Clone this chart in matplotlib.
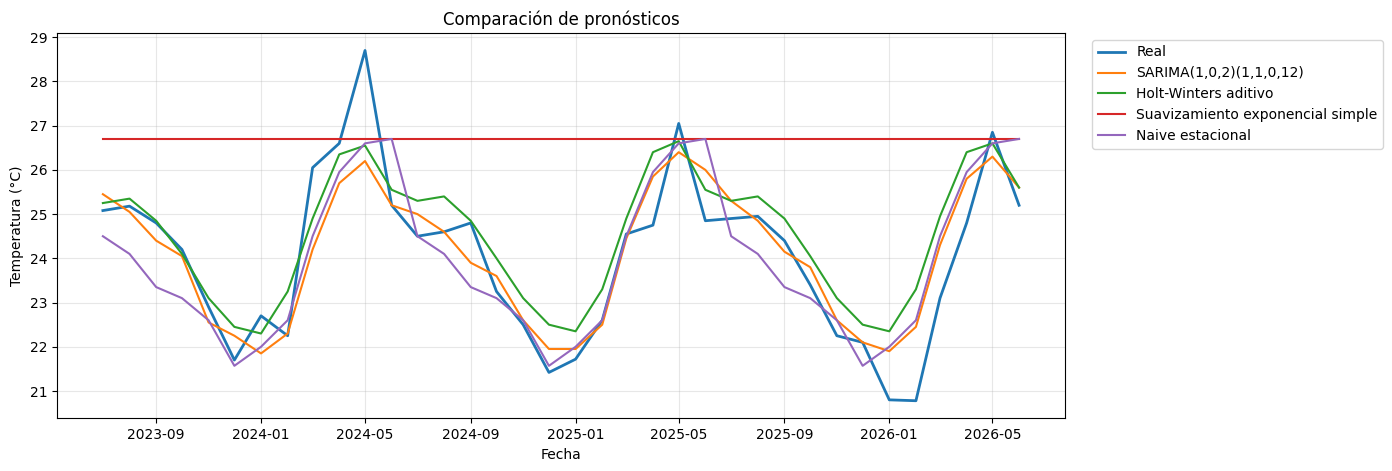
import matplotlib.pyplot as plt
import pandas as pd

fechas = pd.date_range("2023-07-01", periods=36, freq="MS")

real = [25.08, 25.18, 24.8, 24.2, 22.9, 21.7, 22.7, 22.25, 26.05, 26.6, 28.7, 25.2,
        24.5, 24.6, 24.8, 23.25, 22.5, 21.42, 21.72, 22.6, 24.55, 24.75, 27.05, 24.85,
        24.9, 24.95, 24.4, 23.4, 22.25, 22.1, 20.8, 20.78, 23.1, 24.8, 26.85, 25.2]
sarima = [25.45, 25.05, 24.4, 24.05, 22.55, 22.25, 21.85, 22.3, 24.2, 25.7, 26.2, 25.2,
          25.0, 24.6, 23.9, 23.6, 22.6, 21.95, 21.95, 22.5, 24.45, 25.85, 26.4, 26.0,
          25.3, 24.85, 24.15, 23.8, 22.6, 22.1, 21.9, 22.45, 24.3, 25.8, 26.3, 25.6]
holt = [25.25, 25.35, 24.85, 24.1, 23.1, 22.45, 22.3, 23.25, 24.9, 26.35, 26.55, 25.55,
        25.3, 25.4, 24.85, 24.0, 23.1, 22.5, 22.35, 23.3, 24.9, 26.4, 26.65, 25.55,
        25.3, 25.4, 24.9, 24.05, 23.1, 22.5, 22.35, 23.3, 24.95, 26.4, 26.6, 25.6]
ses = [26.7] * 36
naive = [24.5, 24.1, 23.35, 23.1, 22.6, 21.57, 22.0, 22.6, 24.5, 25.95, 26.6, 26.7,
         24.5, 24.1, 23.35, 23.1, 22.6, 21.57, 22.0, 22.6, 24.5, 25.95, 26.6, 26.7,
         24.5, 24.1, 23.35, 23.1, 22.6, 21.57, 22.0, 22.6, 24.5, 25.95, 26.6, 26.7]

fig, ax = plt.subplots(figsize=(13.92, 4.71), dpi=100)
ax.plot(fechas, real, color="#1f77b4", lw=2, label="Real")
ax.plot(fechas, sarima, color="#ff7f0e", lw=1.5, label="SARIMA(1,0,2)(1,1,0,12)")
ax.plot(fechas, holt, color="#2ca02c", lw=1.5, label="Holt-Winters aditivo")
ax.plot(fechas, ses, color="#d62728", lw=1.5, label="Suavizamiento exponencial simple")
ax.plot(fechas, naive, color="#9467bd", lw=1.5, label="Naive estacional")

ax.set_title("Comparación de pronósticos")
ax.set_xlabel("Fecha")
ax.set_ylabel("Temperatura (°C)")
ax.grid(alpha=0.3)
ax.legend(loc="upper left", bbox_to_anchor=(1.02, 1))

fig.subplots_adjust(left=0.041, right=0.765, top=0.93, bottom=0.112)
fig.savefig("out.png", dpi=100)
